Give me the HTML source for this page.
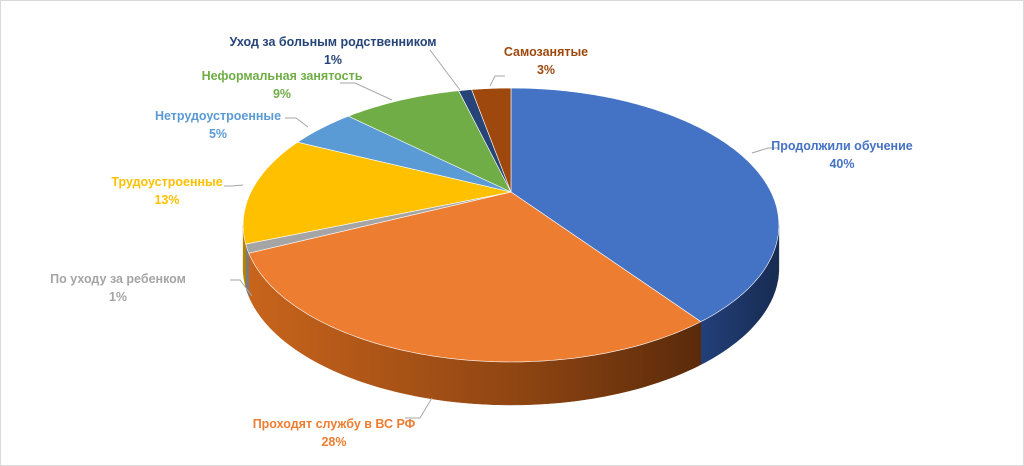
<!DOCTYPE html>
<html><head><meta charset="utf-8">
<style>
html,body{margin:0;padding:0;background:#fff;}
svg{display:block;}
text{font-family:"Liberation Sans",sans-serif;font-weight:bold;font-size:12.5px;}
</style></head><body>
<svg id="s" width="1024" height="466" viewBox="0 0 1024 466" xmlns="http://www.w3.org/2000/svg">
<defs>
<linearGradient id="og" x1="0" x2="1" y1="0" y2="0">
<stop offset="0" stop-color="#c8641c"/><stop offset="0.6" stop-color="#8f4512"/><stop offset="1" stop-color="#5a2a0a"/>
</linearGradient>
<linearGradient id="bg" x1="0" x2="1" y1="0" y2="0">
<stop offset="0" stop-color="#23407a"/><stop offset="1" stop-color="#172b52"/>
</linearGradient>
</defs>
<rect x="0.5" y="0.5" width="1023" height="465" fill="#fff" stroke="#d9d9d9"/>
<g id="pie"></g>
<g stroke="#a6a6a6" stroke-width="1" fill="none">
<polyline points="752,153 768,148 778,148"/>
<polyline points="432,398 420,418 405,418"/>
<polyline points="252,296 240,280 230,280"/>
<polyline points="243,185 232,186 224,186"/>
<polyline points="308,127 296,118 285,118"/>
<polyline points="392,100 355,83 340,83"/>
<polyline points="460,90 430,50"/>
<polyline points="490,86 495,76 505,76"/>
</g>
<text x="842" y="150" fill="#4472c4" text-anchor="middle">Продолжили обучение</text>
<text x="842" y="168" fill="#4472c4" text-anchor="middle">40%</text>
<text x="334" y="428" fill="#ed7d31" text-anchor="middle">Проходят службу в ВС РФ</text>
<text x="334" y="446" fill="#ed7d31" text-anchor="middle">28%</text>
<text x="118" y="283" fill="#a5a5a5" text-anchor="middle">По уходу за ребенком</text>
<text x="118" y="301" fill="#a5a5a5" text-anchor="middle">1%</text>
<text x="167" y="186" fill="#ffc000" text-anchor="middle">Трудоустроенные</text>
<text x="167" y="204" fill="#ffc000" text-anchor="middle">13%</text>
<text x="218" y="120" fill="#5b9bd5" text-anchor="middle">Нетрудоустроенные</text>
<text x="218" y="138" fill="#5b9bd5" text-anchor="middle">5%</text>
<text x="282" y="80" fill="#70ad47" text-anchor="middle">Неформальная занятость</text>
<text x="282" y="98" fill="#70ad47" text-anchor="middle">9%</text>
<text x="333" y="46" fill="#264478" text-anchor="middle">Уход за больным родственником</text>
<text x="333" y="64" fill="#264478" text-anchor="middle">1%</text>
<text x="546" y="56" fill="#9e480e" text-anchor="middle">Самозанятые</text>
<text x="546" y="74" fill="#9e480e" text-anchor="middle">3%</text>
</svg>
<script>
(function(){
var ax=511,ay=192,A=260,B=129,k=0.241,D=43;
var data=[[40,"#4472c4","url(#bg)"],[28,"#ed7d31","url(#og)"],[1,"#a5a5a5","#7a7a7a"],[13,"#ffc000","#b08400"],[5,"#5b9bd5","#3f6f9a"],[9,"#70ad47","#4e7a31"],[1,"#264478","#1a2f55"],[3,"#9e480e","#6e320a"]];
function pt(a,dy){var X=Math.sin(a),Y=-Math.cos(a),d=1-k*Y;return [ax+A*X/d, ay+B*Y/d+(dy||0)];}
function arc(a1,a2,dy){var s="";var n=Math.max(2,Math.ceil(Math.abs(a2-a1)*60));for(var i=0;i<=n;i++){var p=pt(a1+(a2-a1)*i/n,dy);s+=(i?"L":"")+p[0].toFixed(1)+","+p[1].toFixed(1)+" ";}return s;}
var g=document.getElementById("pie"),side="",top="",a=0,PI=Math.PI;
var lo=PI/2+Math.asin(k), hi=3*PI/2-Math.asin(k);
data.forEach(function(d){
 var a1=a,a2=a+d[0]/100*2*PI;a=a2;
 var s1=Math.max(a1,lo),s2=Math.min(a2,hi);
 if(s2>s1){
  side+='<path d="M'+arc(s1,s2,0)+' L'+arc(s2,s1,D)+' Z" fill="'+d[2]+'" stroke="'+d[2]+'" stroke-width="0.5"/>';
 }
 top+='<path d="M'+ax+','+ay+' L'+arc(a1,a2,0)+' Z" fill="'+d[1]+'" stroke="#fff" stroke-width="0.6"/>';
});
g.innerHTML=side+top;
})();
</script>
</body></html>
